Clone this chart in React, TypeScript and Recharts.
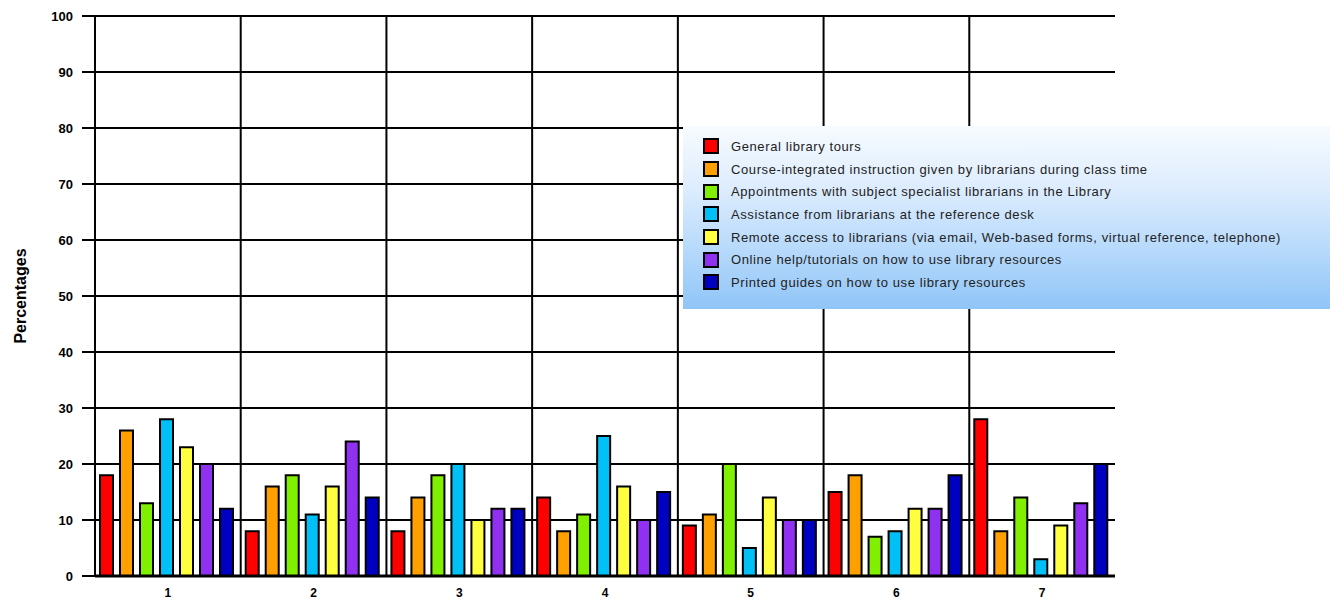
import React from 'react';
import { BarChart, Bar, XAxis, YAxis, CartesianGrid } from 'recharts';

const groups = ['1', '2', '3', '4', '5', '6', '7'];
const yTicks = [0, 10, 20, 30, 40, 50, 60, 70, 80, 90, 100];

const seriesNames = [
  'General library tours',
  'Course-integrated instruction given by librarians during class time',
  'Appointments with subject specialist librarians in the Library',
  'Assistance from librarians at the reference desk',
  'Remote access to librarians (via email, Web-based forms, virtual reference, telephone)',
  'Online help/tutorials on how to use library resources',
  'Printed guides on how to use library resources',
];
const seriesColors = ['#ff0000', '#ffa000', '#80f000', '#00c0f8', '#ffff40', '#9030f0', '#0000c0'];

const tours = [18, 8, 8, 14, 9, 15, 28];
const courseInstruction = [26, 16, 14, 8, 11, 18, 8];
const appointments = [13, 18, 18, 11, 20, 7, 14];
const referenceDesk = [28, 11, 20, 25, 5, 8, 3];
const remoteAccess = [23, 16, 10, 16, 14, 12, 9];
const onlineHelp = [20, 24, 12, 10, 10, 12, 13];
const printedGuides = [12, 14, 12, 15, 10, 18, 20];

const seriesValues = [tours, courseInstruction, appointments, referenceDesk, remoteAccess, onlineHelp, printedGuides];

const data = groups.map((g, i) => {
  const row: Record<string, string | number> = { group: g };
  seriesValues.forEach((vals, s) => {
    row[`s${s}`] = vals[i];
  });
  return row;
});

const LegendBox = () => (
  <div
    style={{
      position: 'absolute',
      left: 683,
      top: 126,
      width: 647,
      height: 183,
      boxSizing: 'border-box',
      padding: '9px 0 0 20px',
      background: 'linear-gradient(to bottom, #f7fbff 0%, #dcecfd 35%, #b4d8fb 70%, #8fc5f7 100%)',
      fontFamily: 'Arial, "Liberation Sans", sans-serif',
      fontSize: 13,
      letterSpacing: 0.6,
      color: '#222',
    }}
  >
    {seriesNames.map((name, i) => (
      <div key={name} style={{ display: 'flex', alignItems: 'center', height: 22.7 }}>
        <span
          style={{
            display: 'inline-block',
            width: 12,
            height: 12,
            background: seriesColors[i],
            border: '2px solid #000',
            marginRight: 12,
          }}
        />
        <span>{name}</span>
      </div>
    ))}
  </div>
);

const YLabel = () => (
  <text
    x={22}
    y={296}
    transform="rotate(-90 22 296)"
    textAnchor="middle"
    dominantBaseline="middle"
    fontFamily="Arial, 'Liberation Sans', sans-serif"
    fontWeight="bold"
    fontSize={16}
    fill="#000"
  >
    Percentages
  </text>
);

export default function App() {
  const tickStyle = { fontFamily: 'Arial, "Liberation Sans", sans-serif', fontWeight: 'bold' as const, fontSize: 12, fill: '#000' };
  return (
    <div style={{ position: 'absolute', left: 0, top: 0, width: 1330, height: 601, background: '#fff' }}>
      <BarChart
        width={1330}
        height={601}
        data={data}
        margin={{ top: 16, right: 215, bottom: 3, left: 35 }}
        barCategoryGap={5}
        barGap={7}
      >
        <CartesianGrid
          stroke="#000"
          strokeWidth={2}
          verticalCoordinatesGenerator={({ offset }: any) =>
            groups.map((_, i) => offset.left + (i * offset.width) / groups.length)
          }
        />
        <XAxis
          dataKey="group"
          height={22}
          axisLine={{ stroke: '#000', strokeWidth: 3 }}
          tickLine={false}
          tickSize={6}
          tickMargin={6}
          tick={tickStyle}
        />
        <YAxis
          width={60}
          domain={[0, 100]}
          ticks={yTicks}
          interval={0}
          axisLine={{ stroke: '#000', strokeWidth: 2 }}
          tickLine={{ stroke: '#000', strokeWidth: 2 }}
          tickSize={13}
          tickMargin={9}
          tick={{ ...tickStyle, fontSize: 13 }}
          label={{ content: () => <YLabel /> }}
        />
        <YAxis
          yAxisId="right"
          orientation="right"
          width={0}
          tick={false}
          tickLine={false}
          axisLine={{ stroke: '#000', strokeWidth: 3 }}
        />
        {seriesNames.map((name, i) => (
          <Bar
            key={name}
            dataKey={`s${i}`}
            name={name}
            fill={seriesColors[i]}
            stroke="#000"
            strokeWidth={2}
            isAnimationActive={false}
          />
        ))}
      </BarChart>
      <LegendBox />
    </div>
  );
}
